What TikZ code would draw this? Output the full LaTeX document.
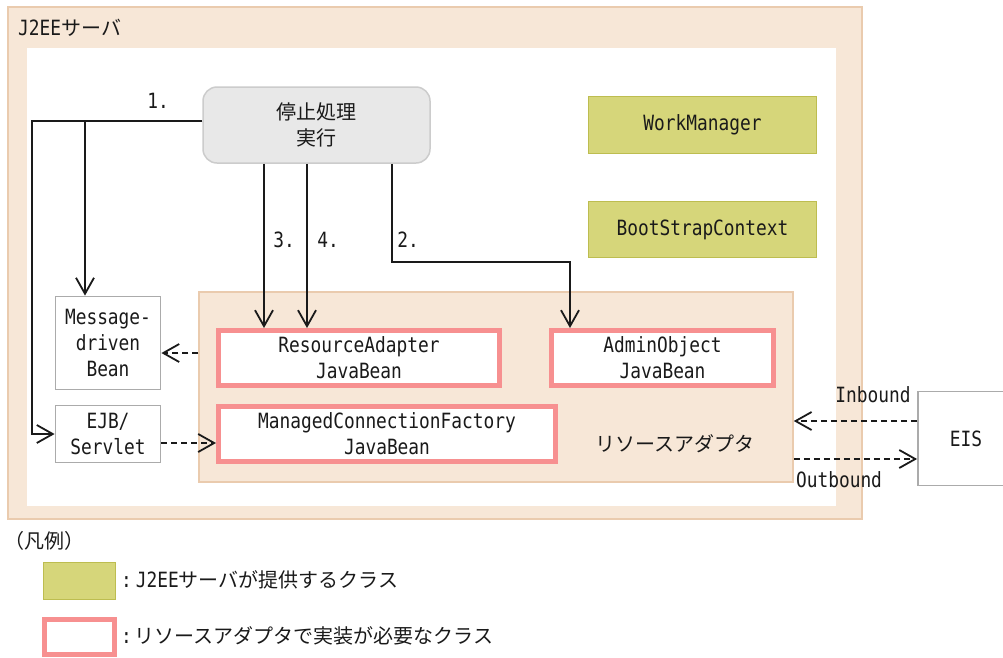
\documentclass[tikz,border=0pt]{standalone}
\usepackage{fontspec}
\setmainfont{DejaVu Sans Mono}[Scale=1.05,FakeStretch=0.85]
\newfontfamily\jp{Noto Sans CJK JP}
\usetikzlibrary{arrows.meta}
\definecolor{peachfill}{HTML}{F7E7D7}
\definecolor{peachdraw}{HTML}{EACBAE}
\definecolor{olivefill}{HTML}{D6D67A}
\definecolor{olivedraw}{HTML}{BDBD50}
\definecolor{pinkdraw}{HTML}{F79090}
\definecolor{graydraw}{HTML}{ABABAB}
\definecolor{stopfill}{HTML}{E8E8E8}
\definecolor{stopdraw}{HTML}{CCCCCC}
\definecolor{ink}{HTML}{1A1A1A}
\tikzset{
  plain/.style={inner sep=0pt, align=center, text=ink},
  peachbox/.style={plain, draw=peachdraw, fill=peachfill, line width=1.5pt},
  whitearea/.style={plain, fill=white},
  stopbox/.style={plain, draw=stopdraw, fill=stopfill, line width=1.5pt, rounded corners=14pt, font=\fontsize{20}{26}\selectfont\jp},
  olivebox/.style={plain, draw=olivedraw, fill=olivefill, line width=1.5pt},
  graybox/.style={plain, draw=graydraw, fill=white, line width=1.8pt},
  pinkbox/.style={plain, draw=pinkdraw, fill=white, line width=5pt},
  lbl/.style={plain},
  arr/.style={draw=ink, line width=1.8pt, -{Straight Barb[length=16pt,width=18pt]}},
  darr/.style={arr, dash pattern=on 6pt off 4pt}
}
\begin{document}
\begin{tikzpicture}[x=1pt,y=-1pt,font=\fontsize{20}{26}\selectfont]
\useasboundingbox (0,0) rectangle (1003,657);
% server frame
\node[peachbox, minimum width=854pt, minimum height=512pt] (server) at (435,263) {};
\node[whitearea, minimum width=809pt, minimum height=458pt] (inner) at (431.5,277) {};
\node[lbl, anchor=west] (title) at (18,28) {J2EE{\jp サーバ}};
% resource adapter area
\node[peachbox, minimum width=594pt, minimum height=190pt] (ra) at (496,387) {};
\node[lbl, font=\fontsize{20}{26}\selectfont\jp] (ralbl) at (675,444) {リソースアダプタ};
% stop processing
\node[stopbox, minimum width=227pt, minimum height=76pt] (stop) at (316.5,125) {停止処理\\実行};
% server classes
\node[olivebox, minimum width=228pt, minimum height=57pt] (wm) at (702.5,125) {WorkManager};
\node[olivebox, minimum width=228pt, minimum height=56pt] (bsc) at (702.5,229.5) {BootStrapContext};
% components
\node[graybox, minimum width=105pt, minimum height=93pt] (mdb) at (108,343) {Message-\\driven\\Bean};
\node[graybox, minimum width=105pt, minimum height=57pt] (ejb) at (108,434) {EJB/\\Servlet};
\node[pinkbox, minimum width=281pt, minimum height=55pt] (rajb) at (359,358) {ResourceAdapter\\JavaBean};
\node[pinkbox, minimum width=337pt, minimum height=55pt] (mcf) at (387,434) {ManagedConnectionFactory\\JavaBean};
\node[pinkbox, minimum width=222pt, minimum height=55pt] (ao) at (662.5,358) {AdminObject\\JavaBean};
\node[graybox, minimum width=96pt, minimum height=94pt] (eis) at (966,438.5) {EIS};
% step 1
\coordinate (c1) at (32,121);
\coordinate (c2) at (85,121);
\draw[arr] ([yshift=4pt]stop.west) -- (c1) |- (ejb.west);
\draw[arr] (c2) -- (c2 |- mdb.north);
\node[lbl] (l1) at (158,101) {1.};
% steps 3 and 4
\coordinate (x3) at (264,0);
\coordinate (x4) at (307,0);
\draw[arr] (x3 |- stop.south) -- (x3 |- rajb.north);
\draw[arr] (x4 |- stop.south) -- (x4 |- rajb.north);
\node[lbl] (l3) at (284,240) {3.};
\node[lbl] (l4) at (328,240) {4.};
% step 2
\coordinate (x2) at (392,0);
\coordinate (k2) at (570,262);
\draw[arr] (x2 |- stop.south) |- (k2) -- (k2 |- ao.north);
\node[lbl] (l2) at (408,240) {2.};
% dashed links
\coordinate (yA) at (0,353);
\coordinate (yB) at (0,443);
\coordinate (yC) at (0,421);
\coordinate (yD) at (0,459);
\draw[darr] (ra.west |- yA) -- (mdb.east |- yA);
\draw[darr] (ejb.east |- yB) -- (mcf.west |- yB);
\draw[darr] (eis.west |- yC) -- (ra.east |- yC);
\draw[darr] (ra.east |- yD) -- (eis.west |- yD);
\node[lbl] (inb) at (873,395) {Inbound};
\node[lbl] (outb) at (839,480) {Outbound};
% legend
\node[lbl, anchor=west, font=\fontsize{20}{26}\selectfont\jp] (leg) at (4,541) {（凡例）};
\node[olivebox, minimum width=72pt, minimum height=37pt] (lg1) at (79.5,581) {};
\node[lbl, anchor=west] (lg1t) at (121,580) {:\hspace{4pt}J2EE{\jp サーバが提供するクラス}};
\node[pinkbox, minimum width=70pt, minimum height=35pt] (lg2) at (79.5,637) {};
\node[lbl, anchor=west] (lg2t) at (121,636) {:\hspace{3pt}{\jp リソースアダプタで実装が必要なクラス}};
\end{tikzpicture}
\end{document}
